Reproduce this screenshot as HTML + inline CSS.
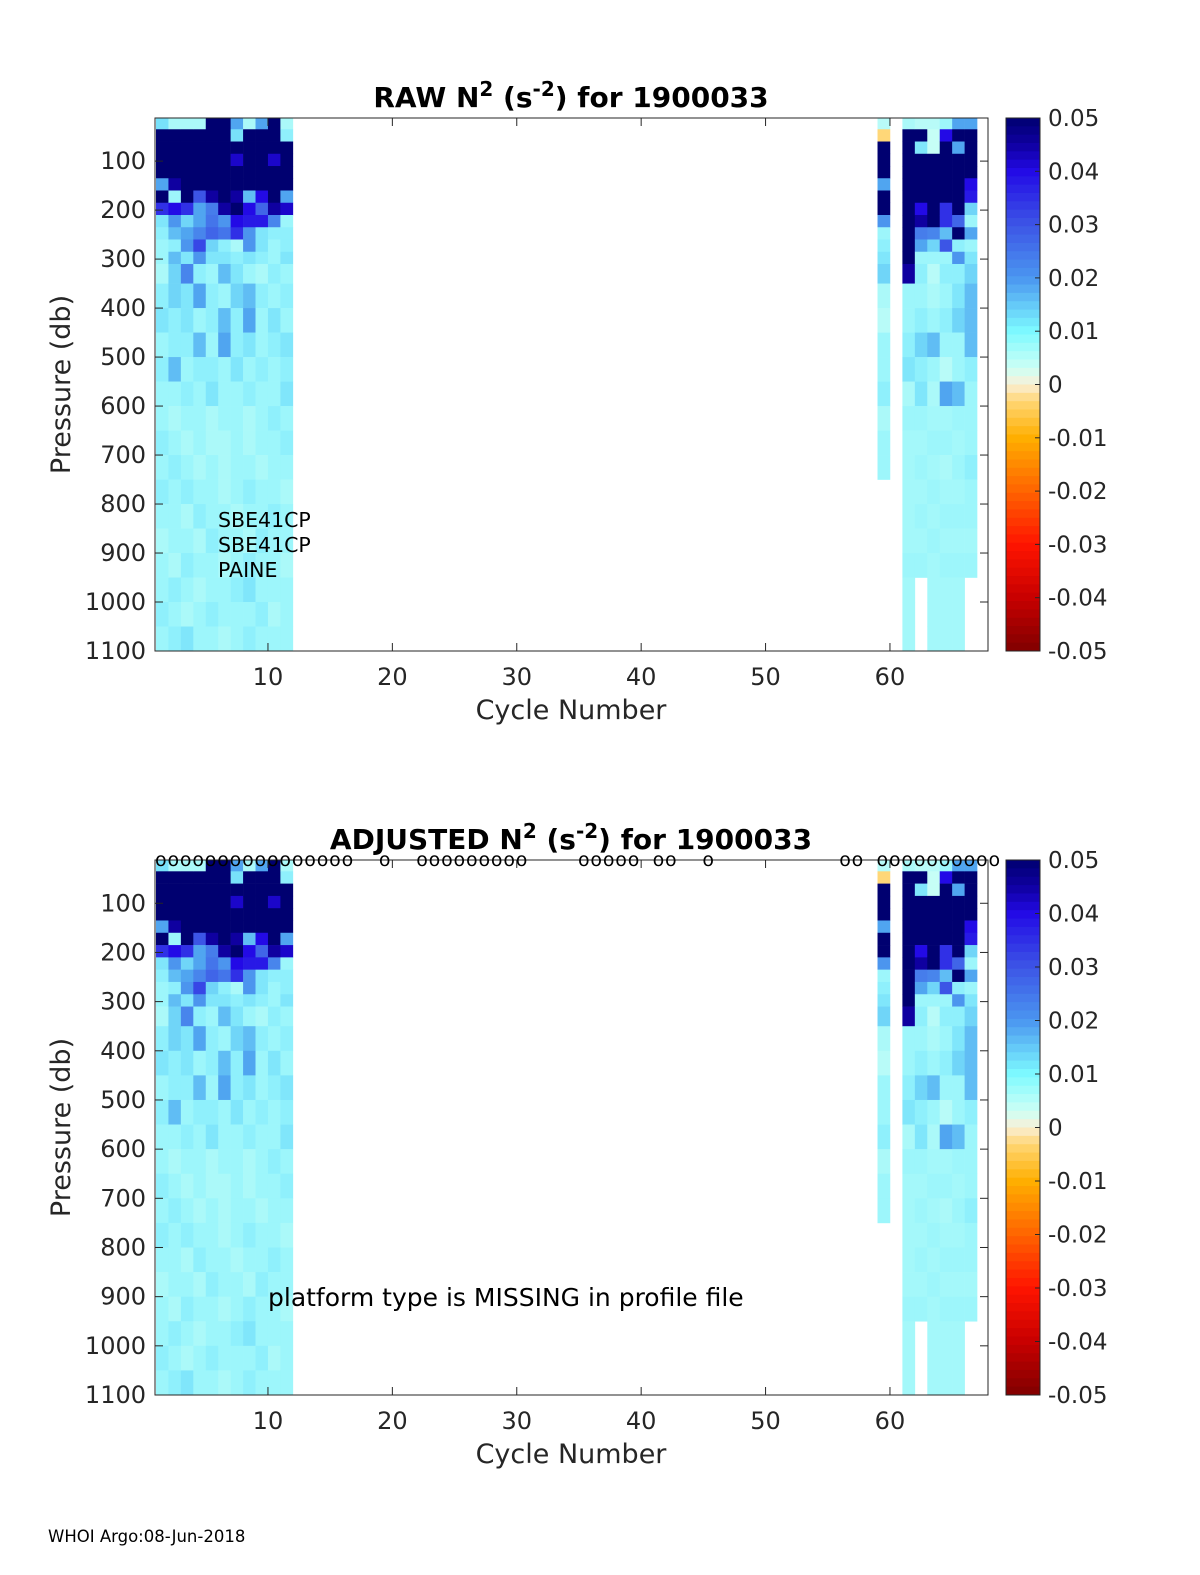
<!DOCTYPE html>
<html><head><meta charset="utf-8"><style>
body{margin:0;background:#fff;}
svg{display:block;font-family:"DejaVu Sans","Liberation Sans",sans-serif;}
</style></head><body>
<svg id="fig" width="1200" height="1575" viewBox="0 0 1200 1575"></svg>
<script>
// Data (N^2 in units of 1e-3 s^-2)
const cycles = [1,2,3,4,5,6,7,8,9,10,11,59,61,62,63,64,65,66];
const pressureEdges = [12,35,60,85,110,135,160,185,210,235,260,285,310,350,400,450,500,550,600,650,700,750,800,850,900,950,1000,1050,1100];
const N = null;
const col1 =[15,50,50,50,50,20,50,35,14,12,10,10,8,12,14,10,12,10,10,12,10,12,10,8,10,10,12,10];
const col2 =[8,50,50,50,50,45,10,40,22,18,12,18,16,16,12,12,18,10,8,10,12,10,10,10,8,12,10,12];
const col3 =[8,50,50,50,50,50,50,35,16,20,22,14,24,14,14,12,10,12,10,8,10,12,8,10,12,10,8,14];
const col4 =[8,50,50,50,50,50,30,20,20,24,32,22,12,20,10,18,12,10,10,10,8,10,12,8,10,8,10,10];
const col5 =[50,50,50,50,50,50,45,25,26,28,16,14,10,12,12,10,12,14,8,8,10,10,10,12,10,10,12,10];
const col6 =[50,50,50,50,50,50,50,45,22,26,12,14,18,10,18,20,10,10,10,8,8,8,10,10,8,10,10,8];
const col7 =[20,15,50,42,50,50,45,50,40,35,8,12,14,16,12,12,14,10,10,10,10,10,8,10,10,12,10,10];
const col8 =[8,50,50,50,50,50,18,40,38,22,22,14,10,18,20,14,10,12,8,8,10,12,10,8,12,14,10,12];
const col9 =[20,50,50,50,50,50,40,28,38,14,14,12,8,12,10,10,12,10,10,10,8,10,10,12,10,10,12,10];
const col10=[50,50,50,42,50,50,50,45,24,12,10,10,12,10,14,12,10,10,12,10,10,10,12,10,10,10,8,10];
const col11=[8,12,50,50,50,50,20,42,10,12,12,14,10,12,10,14,12,14,10,12,10,8,10,10,8,10,10,10];
const col59=[6,-3,50,50,50,20,50,50,22,10,12,14,16,8,6,10,10,12,8,10,10,N,N,N,N,N,N,N];
const col61=[8,50,50,50,50,50,50,50,50,50,50,50,45,10,10,12,14,8,10,9,9,9,9,9,10,9,9,9];
const col62=[6,50,14,50,50,50,50,40,45,25,20,10,12,10,12,16,12,14,10,9,10,9,10,9,10,N,N,N];
const col63=[6,4,4,50,50,50,50,50,50,24,16,10,6,8,10,18,10,8,9,10,9,10,9,10,9,9,9,9];
const col64=[10,40,50,50,50,50,50,35,35,18,30,10,12,10,12,10,6,20,9,10,8,9,10,9,10,9,9,9];
const col65=[20,50,20,50,50,50,50,50,28,50,12,22,12,14,16,10,10,18,10,9,10,9,10,9,10,9,9,9];
const col66=[20,50,50,50,50,40,38,16,10,20,10,14,16,18,18,18,12,10,10,10,12,10,10,9,10,N,N,N];
const columns = [col1,col2,col3,col4,col5,col6,col7,col8,col9,col10,col11,col59,col61,col62,col63,col64,col65,col66];
const markerCycles = [1,2,3,4,5,6,7,8,9,10,11,12,13,14,15,16,19,22,23,24,25,26,27,28,29,30,35,36,37,38,39,41,42,45,56,57,59,60,61,62,63,64,65,66,67,68];
const xTicks = [10,20,30,40,50,60];
const yTicks = [100,200,300,400,500,600,700,800,900,1000,1100];
const cbTicks = [0.05,0.04,0.03,0.02,0.01,0,-0.01,-0.02,-0.03,-0.04,-0.05];

const NS="http://www.w3.org/2000/svg";
const svg=document.getElementById('fig');
function mk(tag,attrs,parent){const e=document.createElementNS(NS,tag);for(const k in attrs)e.setAttribute(k,attrs[k]);(parent||svg).appendChild(e);return e;}

const stops=[[-50,[128,0,0]],[-40,[200,0,0]],[-30,[255,20,0]],[-20,[255,100,0]],[-10,[255,175,0]],[-3,[255,215,120]],[0,[250,240,215]],[3,[205,255,245]],[11,[150,245,252]],[15,[120,225,250]],[20,[80,165,240]],[30,[60,85,230]],[40,[35,10,230]],[45,[15,0,160]],[50,[0,0,112]]];
function color(v){v=Math.max(-50,Math.min(50,v));for(let i=0;i<stops.length-1;i++){const a=stops[i],b=stops[i+1];if(v<=b[0]){const t=(v-a[0])/(b[0]-a[0]);const c=a[1].map((q,j)=>Math.round(q+(b[1][j]-q)*t));return `rgb(${c})`;}}return 'rgb(0,0,112)';}
const cbStops=[[-50,[128,0,0]],[-40,[200,0,0]],[-30,[255,20,0]],[-20,[255,100,0]],[-10,[255,175,0]],[-3,[255,215,120]],[0,[250,240,215]],[3,[205,255,245]],[10,[125,250,255]],[20,[75,150,240]],[30,[60,85,230]],[40,[35,10,230]],[45,[15,0,160]],[50,[0,0,112]]];
function cbColor(v){for(let i=0;i<cbStops.length-1;i++){const a=cbStops[i],b=cbStops[i+1];if(v<=b[0]){const t=(v-a[0])/(b[0]-a[0]);const c=a[1].map((q,j)=>Math.round(q+(b[1][j]-q)*t));return `rgb(${c})`;}}return 'rgb(0,0,112)';}

const X0=155,X1=988;
const xs=c=>156+(c-1)*12.44;

function panel(top,bottom,title,pre){
  const g=mk('g',{});
  
  
  const ys=p=>top+(p-12)*(bottom-top)/1088;
  columns.forEach((col,ci)=>{
    const c=cycles[ci];
    col.forEach((v,ri)=>{
      if(v===null)return;
      const y0=ys(pressureEdges[ri]),y1=ys(pressureEdges[ri+1]);
      const r=mk('rect',{x:xs(c),y:y0,width:xs(c+1)-xs(c)+0.3,height:y1-y0+0.3,fill:color(v)},g);
      
      
    });
  });
  const fr=mk('rect',{x:X0,y:top,width:X1-X0,height:bottom-top,fill:'none',stroke:'#262626','stroke-width':1},g);
  
  
  xTicks.forEach(t=>{
    const x=xs(t);
    mk('line',{x1:x,x2:x,y1:bottom,y2:bottom-8,stroke:'#262626'},g);
    mk('line',{x1:x,x2:x,y1:top,y2:top+8,stroke:'#262626'},g);
    const tx=mk('text',{x:x,y:bottom+34,'font-size':24,'text-anchor':'middle',fill:'#262626'},g);
    tx.textContent=t;
    
    
  });
  yTicks.forEach(t=>{
    const y=ys(t);
    mk('line',{x1:X0,x2:X0+8,y1:y,y2:y,stroke:'#262626'},g);
    mk('line',{x1:X1,x2:X1-8,y1:y,y2:y,stroke:'#262626'},g);
    const tx=mk('text',{x:146,y:y+8,'font-size':24,'text-anchor':'end',fill:'#262626'},g);
    tx.textContent=t;
    
    
  });
  const xl=mk('text',{x:571,y:bottom+68,'font-size':27,'text-anchor':'middle',fill:'#262626'},g);
  xl.textContent='Cycle Number';
  
  
  const yl=mk('text',{x:0,y:0,'font-size':27,'text-anchor':'middle',fill:'#262626',transform:`translate(70,${(top+bottom)/2}) rotate(-90)`},g);
  yl.textContent='Pressure (db)';
  
  
  const tt=mk('text',{x:571,y:top-11,'font-size':28,'font-weight':'bold','text-anchor':'middle',fill:'#000'},g);
  tt.innerHTML=title;
  
  
  const cbT=top,cbB=bottom,cbX=1006,cbW=34;
  const nb=64;
  for(let i=0;i<nb;i++){
    const v=50-(i+0.5)*100/nb;
    mk('rect',{x:cbX,y:cbT+i*(cbB-cbT)/nb,width:cbW,height:(cbB-cbT)/nb+0.5,fill:cbColor(v)},g);
  }
  const cb=mk('rect',{x:cbX,y:cbT,width:cbW,height:cbB-cbT,fill:'none',stroke:'#262626'},g);
  
  
  cbTicks.forEach(t=>{
    const y=cbT+(0.05-t)/0.1*(cbB-cbT);
    mk('line',{x1:cbX+cbW,x2:cbX+cbW-5,y1:y,y2:y,stroke:'#262626'},g);
    const tx=mk('text',{x:1048,y:y+8,'font-size':23,fill:'#262626'},g);
    tx.textContent=t===0?'0':t.toFixed(2);
    
    
  });
  return g;
}

panel(118,651,'RAW N<tspan dy="-11" font-size="20">2</tspan><tspan dy="11"> (s</tspan><tspan dy="-11" font-size="20">-2</tspan><tspan dy="11">) for 1900033</tspan>','raw');
panel(860,1395,'ADJUSTED N<tspan dy="-11" font-size="20">2</tspan><tspan dy="11"> (s</tspan><tspan dy="-11" font-size="20">-2</tspan><tspan dy="11">) for 1900033</tspan>','adjusted');

['SBE41CP','SBE41CP','PAINE'].forEach((s,i)=>{
  const t=mk('text',{x:218,y:527+i*25,'font-size':20.5,fill:'#000'});
  t.textContent=s;
  
  
});
const nt=mk('text',{x:268,y:1306,'font-size':25,fill:'#000'});
nt.textContent='platform type is MISSING in profile file';



markerCycles.forEach(c=>{
  const t=mk('text',{x:xs(c)-1,y:866,'font-size':19,fill:'#000'});
  t.textContent='o';
  
  
});

const ft=mk('text',{x:48,y:1542,'font-size':16.5,fill:'#000'});
ft.textContent='WHOI Argo:08-Jun-2018';


</script>
</body></html>
